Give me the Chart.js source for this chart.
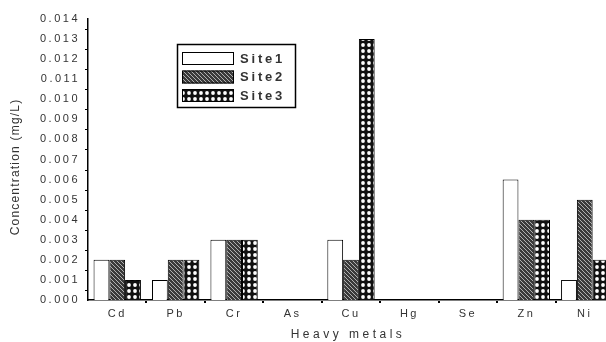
<!DOCTYPE html>
<html>
<head>
<meta charset="utf-8">
<script src="https://cdn.jsdelivr.net/npm/chart.js@4/dist/chart.umd.min.js"></script>
<style>
  html, body { margin: 0; padding: 0; background: #fff; overflow: hidden; }
  #wrap { width: 606px; height: 342px; overflow: hidden; }
  #box { width: 614px; height: 342px; }
</style>
</head>
<body>
<div id="wrap"><div id="box"><canvas id="metals"></canvas></div></div>
<script>
const metals = ['Cd', 'Pb', 'Cr', 'As', 'Cu', 'Hg', 'Se', 'Zn', 'Ni'];
const site1 = [0.002, 0.001, 0.003, 0, 0.003, 0, 0, 0.006, 0.001];
const site2 = [0.002, 0.002, 0.003, 0, 0.002, 0, 0, 0.004, 0.005];
const site3 = [0.001, 0.002, 0.003, 0, 0.013, 0, 0, 0.004, 0.002];
const siteNames = ['Site1', 'Site2', 'Site3'];

// fill patterns
function hatchPattern() {
    const c = document.createElement('canvas');
    c.width = 4; c.height = 4;
    const g = c.getContext('2d');
    g.fillStyle = '#3a3a3a';
    g.fillRect(0, 0, 4, 4);
    g.fillStyle = '#b0b0b0';
    for (let i = 0; i < 4; i++) g.fillRect(i, i, 1, 1);
    return g.createPattern(c, 'repeat');
}
function dotPattern() {
    const c = document.createElement('canvas');
    c.width = 6; c.height = 6;
    const g = c.getContext('2d');
    g.fillStyle = '#111';
    g.fillRect(0, 0, 6, 6);
    g.fillStyle = '#fff';
    g.beginPath();
    g.arc(3, 3, 1.9, 0, Math.PI * 2);
    g.fill();
    return g.createPattern(c, 'repeat');
}
const fills = ['#ffffff', hatchPattern(), dotPattern()];

const font = "'Liberation Sans', Arial, sans-serif";

// the source image is stretched sideways, so space the letters out
const spacing = {
    id: 'spacing',
    beforeDraw(chart) {
        chart.ctx.letterSpacing = '2.5px';
    }
};

const extras = {
    id: 'extras',
    afterDraw(chart) {
        const {ctx, scales: {x, y}, chartArea} = chart;
        ctx.save();
        ctx.strokeStyle = '#000';
        ctx.lineWidth = 1;
        // y minor ticks
        for (let v = 0.0005; v < 0.014; v += 0.001) {
            const py = Math.round(y.getPixelForValue(v)) + 0.5;
            ctx.beginPath();
            ctx.moveTo(chartArea.left - 3, py);
            ctx.lineTo(chartArea.left, py);
            ctx.stroke();
        }
        // x boundary dots
        ctx.fillStyle = '#000';
        for (let i = 0; i < metals.length - 1; i++) {
            const px = (x.getPixelForValue(i) + x.getPixelForValue(i + 1)) / 2;
            ctx.fillRect(Math.round(px) - 1, chartArea.bottom + 1, 2, 2);
        }
        // axis titles
        ctx.fillStyle = '#333';
        ctx.textAlign = 'center';
        ctx.textBaseline = 'middle';
        ctx.font = '12px ' + font;
        ctx.letterSpacing = '3.5px';
        ctx.fillText('Heavy metals', 348, 335);
        ctx.save();
        ctx.translate(16, 167);
        ctx.rotate(-Math.PI / 2);
        ctx.letterSpacing = '1.2px';
        ctx.fillText('Concentration (mg/L)', 0, 0);
        ctx.restore();
        // legend box
        ctx.lineWidth = 1.5;
        ctx.strokeRect(177.5, 44.5, 118, 63);
        ctx.font = 'bold 13px ' + font;
        ctx.letterSpacing = '2.8px';
        ctx.textAlign = 'left';
        chart.data.datasets.forEach((ds, i) => {
            const top = 52 + i * 18.5;
            ctx.fillStyle = ds.backgroundColor;
            ctx.fillRect(182, top, 52, 13);
            ctx.lineWidth = 1;
            ctx.strokeRect(182.5, top + 0.5, 51, 12);
            ctx.fillStyle = '#333';
            ctx.fillText(ds.label, 240, top + 7);
        });
        ctx.restore();
    }
};

const data = {
    labels: metals,
    datasets: [site1, site2, site3].map((vals, i) => ({
        label: siteNames[i],
        data: vals,
        backgroundColor: fills[i],
        borderColor: '#000',
        borderWidth: 1,
        categoryPercentage: 0.81,
        barPercentage: 1
    }))
};

const options = {
    responsive: true,
    maintainAspectRatio: false,
    animation: false,
    layout: {padding: {left: 0, right: 0, top: 19, bottom: 0}},
    plugins: {legend: {display: false}, tooltip: {enabled: false}},
    scales: {
        x: {
            grid: {display: false, drawTicks: true, tickLength: 4},
            border: {color: '#000', width: 1.5},
            ticks: {color: '#333', font: {family: font, size: 11}, padding: 3},
            afterFit(s) { s.height = 42; }
        },
        y: {
            min: 0,
            max: 0.014,
            grid: {display: false, drawTicks: true, tickLength: 6},
            border: {color: '#000', width: 1.5},
            ticks: {
                stepSize: 0.001,
                color: '#333',
                font: {family: font, size: 11},
                padding: 2,
                callback: v => v.toFixed(3)
            },
            afterFit(s) { s.width = 88; }
        }
    }
};

const chart = new Chart(document.getElementById('metals'), {
    type: 'bar',
    data: data,
    options: options,
    plugins: [spacing, extras]
});
</script>
</body>
</html>
